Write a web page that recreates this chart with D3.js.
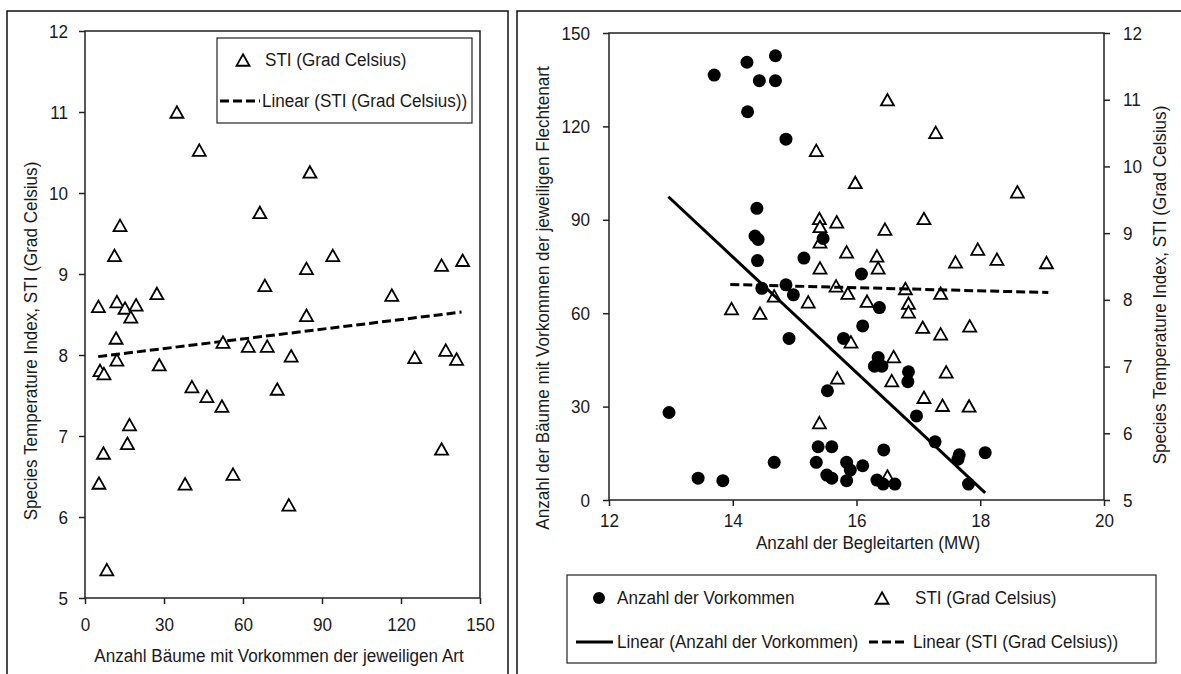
<!DOCTYPE html>
<html>
<head>
<meta charset="utf-8">
<script src="https://cdn.jsdelivr.net/npm/d3@7"></script>
<style>
body{margin:0;background:#fff;}
svg text{font-family:"Liberation Sans","Arial",sans-serif;fill:#1a1a1a;}
</style>
</head>
<body>
<script>
// linkes Diagramm: Anzahl Baeume je Art gegen STI
var baeumeX=[11.8,5.7,7.2,12.1,28.2,52.4,62,69.2,78.3,40.6,46.3,52,73,16.9,16.1,7,5.3,38,56.2,77.4,8.3,125.2,137,141.1,135.4,85.4,84.1,94.1,135.4,143.4,116.5,84.1,34.9,43.4,66.4,13.3,11.2,68.3,27.3,5.1,12.1,15.2,19.4,17.4];
var baeumeSTI=[8.21,7.81,7.77,7.94,7.88,8.16,8.11,8.11,7.99,7.61,7.49,7.37,7.58,7.14,6.91,6.79,6.42,6.41,6.53,6.15,5.35,7.97,8.06,7.95,6.84,10.26,9.07,9.23,9.11,9.17,8.74,8.49,11.0,10.53,9.76,9.60,9.23,8.86,8.76,8.60,8.66,8.58,8.62,8.47];
var trendLinksX=[5,143];
var trendLinksY=[7.98,8.53];
var xTicksLinks=[0,30,60,90,120,150];
var yTicksSTI=[5,6,7,8,9,10,11,12];

// rechtes Diagramm: Begleitarten gegen Vorkommen und STI
var vorkommenX=[13.70,14.23,14.24,14.43,14.69,14.69,14.86,14.39,14.36,14.41,14.40,14.47,14.86,14.98,15.15,14.91,12.97,13.44,13.84,14.67,15.46,16.08,16.37,16.10,15.79,16.35,16.29,16.41,16.84,16.83,15.53,16.97,17.27,17.66,17.64,18.08,17.81,15.38,15.60,15.35,15.52,15.60,15.84,15.90,15.84,16.10,16.44,16.33,16.43,16.62];
var vorkommenY=[136.5,140.6,124.7,134.7,142.7,134.7,115.9,93.7,84.8,83.7,76.9,68.0,69.1,65.9,77.7,51.9,28.1,7.0,6.2,12.1,84.0,72.6,61.8,55.9,51.9,45.8,43.0,43.0,41.2,38.0,35.1,27.0,18.7,14.5,13.1,15.2,5.1,17.1,17.1,12.1,8.0,7.0,12.1,9.6,6.2,11.0,16.1,6.4,5.1,5.1];
var stiX=[13.98,14.44,14.67,16.50,17.28,15.35,15.98,18.60,15.40,15.41,15.41,15.68,16.46,17.09,15.84,16.33,16.35,15.41,17.60,17.96,18.27,19.07,15.67,15.86,16.17,16.79,16.84,16.84,17.36,15.22,17.07,17.36,17.83,15.91,16.60,17.45,16.57,15.69,17.09,17.39,17.82,15.40,16.50];
var stiY=[7.87,7.80,8.06,11.0,10.51,10.24,9.76,9.62,9.22,9.10,8.87,9.17,9.06,9.22,8.72,8.66,8.48,8.48,8.57,8.76,8.61,8.56,8.21,8.10,7.98,8.17,7.95,7.82,8.10,7.97,7.59,7.49,7.61,7.37,7.15,6.92,6.79,6.83,6.54,6.42,6.41,6.16,5.36];
var trendVorkX=[12.96,18.08];
var trendVorkY=[97.4,2.3];
var trendStiX=[13.96,19.10];
var trendStiY=[8.23,8.11];
var xTicksRechts=[12,14,16,18,20];
var yTicksVork=[0,30,60,90,120,150];

var fs=19;
var schmal=0.9; // schmale Schrift nachgebildet
var svg=d3.select("body").append("svg").attr("width",1181).attr("height",674);

// Rahmen der beiden Teilbilder
svg.append("rect").attr("x",7).attr("y",11).attr("width",501).attr("height",700).attr("fill","none").attr("stroke","#111").attr("stroke-width",1.5);
svg.append("rect").attr("x",517).attr("y",11).attr("width",700).attr("height",700).attr("fill","none").attr("stroke","#111").attr("stroke-width",1.5);

function dreieck(w,h) {
	return "M0,"+(-h/2)+"L"+(w/2)+","+(h/2)+"L"+(-w/2)+","+(h/2)+"Z";
}
var triPath=dreieck(13,11.5);

// Text horizontal stauchen (keine schmale Schrift installiert)
function narrow(sel) {
	sel.each(function() {
		var t=d3.select(this);
		var x=+t.attr("x")||0;
		var y=+t.attr("y")||0;
		var tr=t.attr("transform")||"";
		t.attr("x",0).attr("y",0).attr("transform",tr+" translate("+x+","+y+") scale("+schmal+",1)");
	});
}

function styleAxis(g) {
	g.select(".domain").remove();
	g.selectAll("line").attr("stroke","#222").attr("stroke-width",1.5);
	g.selectAll("text").attr("font-size",fs).attr("fill","#1a1a1a").call(narrow);
}

function label(txt,x,y,anchor) {
	return svg.append("text").text(txt).attr("x",x).attr("y",y).attr("text-anchor",anchor||"start")
		.attr("dominant-baseline","central").attr("font-size",fs).call(narrow);
}

function vLabel(txt,x,y) {
	return svg.append("text").text(txt).attr("text-anchor","middle").attr("dominant-baseline","central")
		.attr("transform","translate("+x+","+y+") rotate(-90) scale("+schmal+",1)").attr("font-size",fs);
}

// ---------- linkes Diagramm ----------
var xL=d3.scaleLinear().domain([0,150]).range([85,480]);
var yL=d3.scaleLinear().domain([5,12]).range([598,31]);

svg.append("rect").attr("x",85).attr("y",31).attr("width",395).attr("height",567).attr("fill","none").attr("stroke","#222").attr("stroke-width",1.5);

var gx=svg.append("g").attr("transform","translate(0,598)")
	.call(d3.axisBottom(xL).tickValues(xTicksLinks).tickSize(6).tickPadding(13.5).tickFormat(d3.format("d")));
styleAxis(gx);
var gy=svg.append("g").attr("transform","translate(85,0)")
	.call(d3.axisLeft(yL).tickValues(yTicksSTI).tickSize(6).tickPadding(11).tickFormat(d3.format("d")));
styleAxis(gy);

svg.append("line").attr("x1",xL(trendLinksX[0])).attr("y1",yL(trendLinksY[0])).attr("x2",xL(trendLinksX[1])).attr("y2",yL(trendLinksY[1]))
	.attr("stroke","#000").attr("stroke-width",3).attr("stroke-dasharray","9,4");

svg.append("g").selectAll("path").data(baeumeX).enter().append("path")
	.attr("d",triPath)
	.attr("transform",function(d,i){return "translate("+xL(d)+","+yL(baeumeSTI[i])+")";})
	.attr("fill","#fff").attr("stroke","#000").attr("stroke-width",1.8);

vLabel("Species Temperature Index, STI (Grad Celsius)",31,341);
svg.append("text").text("Anzahl Bäume mit Vorkommen der jeweiligen Art").attr("text-anchor","middle")
	.attr("x",279).attr("y",662).attr("font-size",fs).call(narrow);

// Legende links
svg.append("rect").attr("x",217).attr("y",38).attr("width",255).attr("height",85).attr("fill","#fff").attr("stroke","#222").attr("stroke-width",1.2);
svg.append("path").attr("d",triPath).attr("transform","translate(243,60)").attr("fill","#fff").attr("stroke","#000").attr("stroke-width",1.8);
label("STI (Grad Celsius)",265,60);
svg.append("line").attr("x1",220).attr("y1",101).attr("x2",260).attr("y2",101).attr("stroke","#000").attr("stroke-width",3).attr("stroke-dasharray","9,4");
label("Linear (STI (Grad Celsius))",262,101);

// ---------- rechtes Diagramm ----------
var xR=d3.scaleLinear().domain([12,20]).range([609,1104]);
var yR=d3.scaleLinear().domain([0,150]).range([500,33]);
var yR2=d3.scaleLinear().domain([5,12]).range([500,33]);

svg.append("rect").attr("x",609).attr("y",33).attr("width",495).attr("height",467).attr("fill","none").attr("stroke","#222").attr("stroke-width",1.5);

var gx2=svg.append("g").attr("transform","translate(0,500)")
	.call(d3.axisBottom(xR).tickValues(xTicksRechts).tickSize(6).tickPadding(7.5).tickFormat(d3.format("d")));
styleAxis(gx2);
var gy2=svg.append("g").attr("transform","translate(609,0)")
	.call(d3.axisLeft(yR).tickValues(yTicksVork).tickSize(6).tickPadding(13).tickFormat(d3.format("d")));
styleAxis(gy2);
var gy3=svg.append("g").attr("transform","translate(1104,0)")
	.call(d3.axisRight(yR2).tickValues(yTicksSTI).tickSize(6).tickPadding(13).tickFormat(d3.format("d")));
styleAxis(gy3);

svg.append("g").selectAll("path").data(stiX).enter().append("path")
	.attr("d",triPath)
	.attr("transform",function(d,i){return "translate("+xR(d)+","+yR2(stiY[i])+")";})
	.attr("fill","#fff").attr("stroke","#000").attr("stroke-width",1.8);

svg.append("g").selectAll("circle").data(vorkommenX).enter().append("circle")
	.attr("cx",function(d){return xR(d);})
	.attr("cy",function(d,i){return yR(vorkommenY[i]);})
	.attr("r",6.5).attr("fill","#000");

svg.append("line").attr("x1",xR(trendVorkX[0])).attr("y1",yR(trendVorkY[0])).attr("x2",xR(trendVorkX[1])).attr("y2",yR(trendVorkY[1]))
	.attr("stroke","#000").attr("stroke-width",3);
svg.append("line").attr("x1",xR(trendStiX[0])).attr("y1",yR2(trendStiY[0])).attr("x2",xR(trendStiX[1])).attr("y2",yR2(trendStiY[1]))
	.attr("stroke","#000").attr("stroke-width",3).attr("stroke-dasharray","9,4");

vLabel("Anzahl der Bäume mit Vorkommen der jeweiligen Flechtenart",543,298);
vLabel("Species Temperature Index, STI (Grad Celsius)",1160,285);
svg.append("text").text("Anzahl der Begleitarten (MW)").attr("text-anchor","middle")
	.attr("x",868).attr("y",549).attr("font-size",fs).call(narrow);

// Legende rechts
svg.append("rect").attr("x",567).attr("y",575).attr("width",589).attr("height",88).attr("fill","#fff").attr("stroke","#222").attr("stroke-width",1.2);
svg.append("circle").attr("cx",599).attr("cy",598).attr("r",6).attr("fill","#000");
label("Anzahl der Vorkommen",617,598);
svg.append("path").attr("d",triPath).attr("transform","translate(882,598)").attr("fill","#fff").attr("stroke","#000").attr("stroke-width",1.8);
label("STI (Grad Celsius)",915,598);
svg.append("line").attr("x1",576).attr("y1",642).attr("x2",613).attr("y2",642).attr("stroke","#000").attr("stroke-width",3);
label("Linear (Anzahl der Vorkommen)",617,642);
svg.append("line").attr("x1",869).attr("y1",642).attr("x2",906).attr("y2",642).attr("stroke","#000").attr("stroke-width",3).attr("stroke-dasharray","9,4");
label("Linear (STI (Grad Celsius))",913,642);
</script>
</body>
</html>
